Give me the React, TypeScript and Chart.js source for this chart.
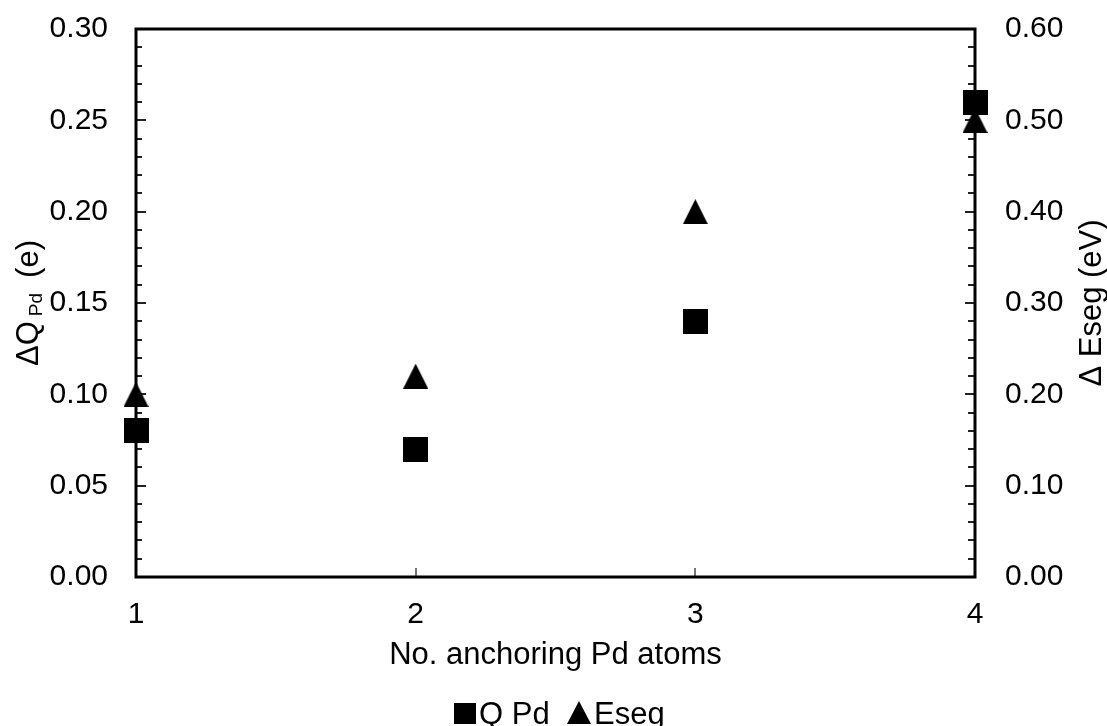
import React, { useEffect, useRef } from 'react';
import { Chart, registerables } from 'chart.js';

Chart.register(...registerables);

const categories = [1, 2, 3, 4];
const qPdValues = [0.08, 0.07, 0.14, 0.26];
const esegValues = [0.2, 0.22, 0.4, 0.5];
const leftTickValues = [0, 0.05, 0.1, 0.15, 0.2, 0.25, 0.3];
const rightTickValues = [0, 0.1, 0.2, 0.3, 0.4, 0.5, 0.6];
const xTickValues = [1, 2, 3, 4];
const leftMinorPerMajor = 5;
const rightMinorPerMajor = 5;
const seriesNames = ['Q Pd', 'Eseg'];

const FONT = '"Liberation Sans", Arial, sans-serif';

function makeSquare(size: number) {
  const c = document.createElement('canvas');
  c.width = size;
  c.height = size;
  const g = c.getContext('2d')!;
  g.fillStyle = '#000';
  g.fillRect(0, 0, size, size);
  return c;
}

function makeTriangle(size: number) {
  const c = document.createElement('canvas');
  c.width = size;
  c.height = size;
  const g = c.getContext('2d')!;
  g.fillStyle = '#000';
  g.beginPath();
  g.moveTo(size / 2, 0);
  g.lineTo(size, size);
  g.lineTo(0, size);
  g.closePath();
  g.fill();
  return c;
}

const decoPlugin = {
  id: 'deco',
  beforeDatasetsDraw(chart: any) {
    const { ctx, chartArea: a, scales } = chart;
    const yl = scales.y;
    const yr = scales.y2;
    const xs = scales.x;
    ctx.save();
    ctx.lineWidth = 2;
    ctx.strokeStyle = '#222';
    const lStep = (leftTickValues[1] - leftTickValues[0]) / leftMinorPerMajor;
    const lCount = Math.round((leftTickValues[leftTickValues.length - 1] - leftTickValues[0]) / lStep);
    for (let i = 0; i <= lCount; i++) {
      const v = leftTickValues[0] + i * lStep;
      const py = Math.round(yl.getPixelForValue(v));
      const len = i % leftMinorPerMajor === 0 ? 10 : 6;
      ctx.beginPath();
      ctx.moveTo(a.left, py);
      ctx.lineTo(a.left + len, py);
      ctx.stroke();
    }
    const rStep = (rightTickValues[1] - rightTickValues[0]) / rightMinorPerMajor;
    const rCount = Math.round((rightTickValues[rightTickValues.length - 1] - rightTickValues[0]) / rStep);
    for (let i = 0; i <= rCount; i++) {
      const v = rightTickValues[0] + i * rStep;
      const py = Math.round(yr.getPixelForValue(v));
      const len = i % rightMinorPerMajor === 0 ? 10 : 7;
      ctx.beginPath();
      ctx.moveTo(a.right, py);
      ctx.lineTo(a.right - len, py);
      ctx.stroke();
    }
    ctx.strokeStyle = '#777';
    for (let i = 1; i < xTickValues.length - 1; i++) {
      const px = Math.round(xs.getPixelForValue(xTickValues[i]));
      ctx.beginPath();
      ctx.moveTo(px, a.bottom);
      ctx.lineTo(px, a.bottom - 9);
      ctx.stroke();
    }
    ctx.strokeStyle = '#000';
    ctx.lineWidth = 3;
    ctx.strokeRect(a.left, a.top, a.right - a.left, a.bottom - a.top);
    ctx.restore();
  },
  afterDraw(chart: any) {
    const { ctx, chartArea: a } = chart;
    const cy = (a.top + a.bottom) / 2;
    const cx = (a.left + a.right) / 2;
    ctx.save();
    ctx.fillStyle = '#000';
    ctx.textBaseline = 'alphabetic';
    const mainFont = `31px ${FONT}`;
    const subFont = `19px ${FONT}`;
    ctx.font = mainFont;
    const w1 = ctx.measureText('\u0394Q').width;
    const w3 = ctx.measureText('(e)').width;
    ctx.font = subFont;
    const w2 = ctx.measureText('Pd').width;
    const gap1 = 5;
    const gap2 = 15;
    const total = w1 + gap1 + w2 + gap2 + w3;
    ctx.translate(38, cy);
    ctx.rotate(-Math.PI / 2);
    let p = -total / 2;
    ctx.font = mainFont;
    ctx.textAlign = 'left';
    ctx.fillText('\u0394Q', p, 0);
    p += w1 + gap1;
    ctx.font = subFont;
    ctx.fillText('Pd', p, 4);
    p += w2 + gap2;
    ctx.font = mainFont;
    ctx.fillText('(e)', p, 0);
    ctx.restore();

    ctx.save();
    ctx.fillStyle = '#000';
    ctx.font = `31px ${FONT}`;
    ctx.textAlign = 'center';
    ctx.textBaseline = 'alphabetic';
    ctx.translate(1101, cy);
    ctx.rotate(-Math.PI / 2);
    ctx.fillText('\u0394 Eseg (eV)', 0, 0);
    ctx.restore();

    ctx.save();
    ctx.fillStyle = '#000';
    ctx.font = `31px ${FONT}`;
    ctx.textAlign = 'center';
    ctx.textBaseline = 'alphabetic';
    ctx.fillText('No. anchoring Pd atoms', cx, 664);
    ctx.restore();

    ctx.save();
    ctx.fillStyle = '#000';
    ctx.font = `31px ${FONT}`;
    ctx.textAlign = 'left';
    ctx.textBaseline = 'alphabetic';
    ctx.fillRect(454, 703, 22, 21);
    ctx.fillText(seriesNames[0], 479, 724);
    ctx.beginPath();
    ctx.moveTo(579, 701);
    ctx.lineTo(591, 724);
    ctx.lineTo(567, 724);
    ctx.closePath();
    ctx.fill();
    ctx.fillText(seriesNames[1], 594, 724);
    ctx.restore();
  },
};

export default function App() {
  const ref = useRef<HTMLCanvasElement | null>(null);
  useEffect(() => {
    document.body.style.margin = '0';
    const canvas = ref.current!;
    const square = makeSquare(25);
    const triangle = makeTriangle(25);
    const tickFont = { family: FONT, size: 30 };
    const fitVertical = (width: number) => (s: any) => {
      s.width = width;
      s.paddingTop = 0;
      s.paddingBottom = 0;
    };
    const chart = new Chart(canvas, {
      type: 'scatter',
      data: {
        datasets: [
          {
            label: seriesNames[1],
            data: categories.map((c, i) => ({ x: c, y: esegValues[i] })),
            yAxisID: 'y2',
            pointStyle: triangle as any,
            backgroundColor: '#000',
            borderColor: '#000',
            clip: false as any,
          },
          {
            label: seriesNames[0],
            data: categories.map((c, i) => ({ x: c, y: qPdValues[i] })),
            yAxisID: 'y',
            pointStyle: square as any,
            backgroundColor: '#000',
            borderColor: '#000',
            clip: false as any,
          },
        ],
      },
      options: {
        responsive: false,
        animation: false,
        events: [],
        devicePixelRatio: 1,
        layout: { padding: { top: 29, left: 0, right: 0, bottom: 0 } },
        plugins: { legend: { display: false }, tooltip: { enabled: false } },
        scales: {
          x: {
            type: 'linear',
            min: xTickValues[0],
            max: xTickValues[xTickValues.length - 1],
            afterBuildTicks: (s: any) => {
              s.ticks = xTickValues.map((v) => ({ value: v }));
            },
            afterFit: (s: any) => {
              s.height = 149;
              s.paddingLeft = 0;
              s.paddingRight = 0;
            },
            grid: { display: false, drawTicks: false },
            border: { display: false },
            ticks: {
              font: tickFont,
              color: '#000',
              padding: 20,
              maxRotation: 0,
              callback: (v: any) => String(v),
            },
          },
          y: {
            position: 'left',
            min: leftTickValues[0],
            max: leftTickValues[leftTickValues.length - 1],
            afterBuildTicks: (s: any) => {
              s.ticks = leftTickValues.map((v) => ({ value: v }));
            },
            afterFit: fitVertical(136),
            grid: { display: false, drawTicks: false },
            border: { display: false },
            ticks: {
              font: tickFont,
              color: '#000',
              padding: 28,
              callback: (v: any) => Number(v).toFixed(2),
            },
          },
          y2: {
            position: 'right',
            min: rightTickValues[0],
            max: rightTickValues[rightTickValues.length - 1],
            afterBuildTicks: (s: any) => {
              s.ticks = rightTickValues.map((v) => ({ value: v }));
            },
            afterFit: fitVertical(132),
            grid: { display: false, drawTicks: false },
            border: { display: false },
            ticks: {
              font: tickFont,
              color: '#000',
              padding: 30,
              callback: (v: any) => Number(v).toFixed(2),
            },
          },
        },
      },
      plugins: [decoPlugin],
    } as any);
    return () => chart.destroy();
  }, []);
  return (
    <div style={{ width: 1107, height: 726 }}>
      <canvas ref={ref} width={1107} height={726} style={{ display: 'block', width: 1107, height: 726 }} />
    </div>
  );
}
